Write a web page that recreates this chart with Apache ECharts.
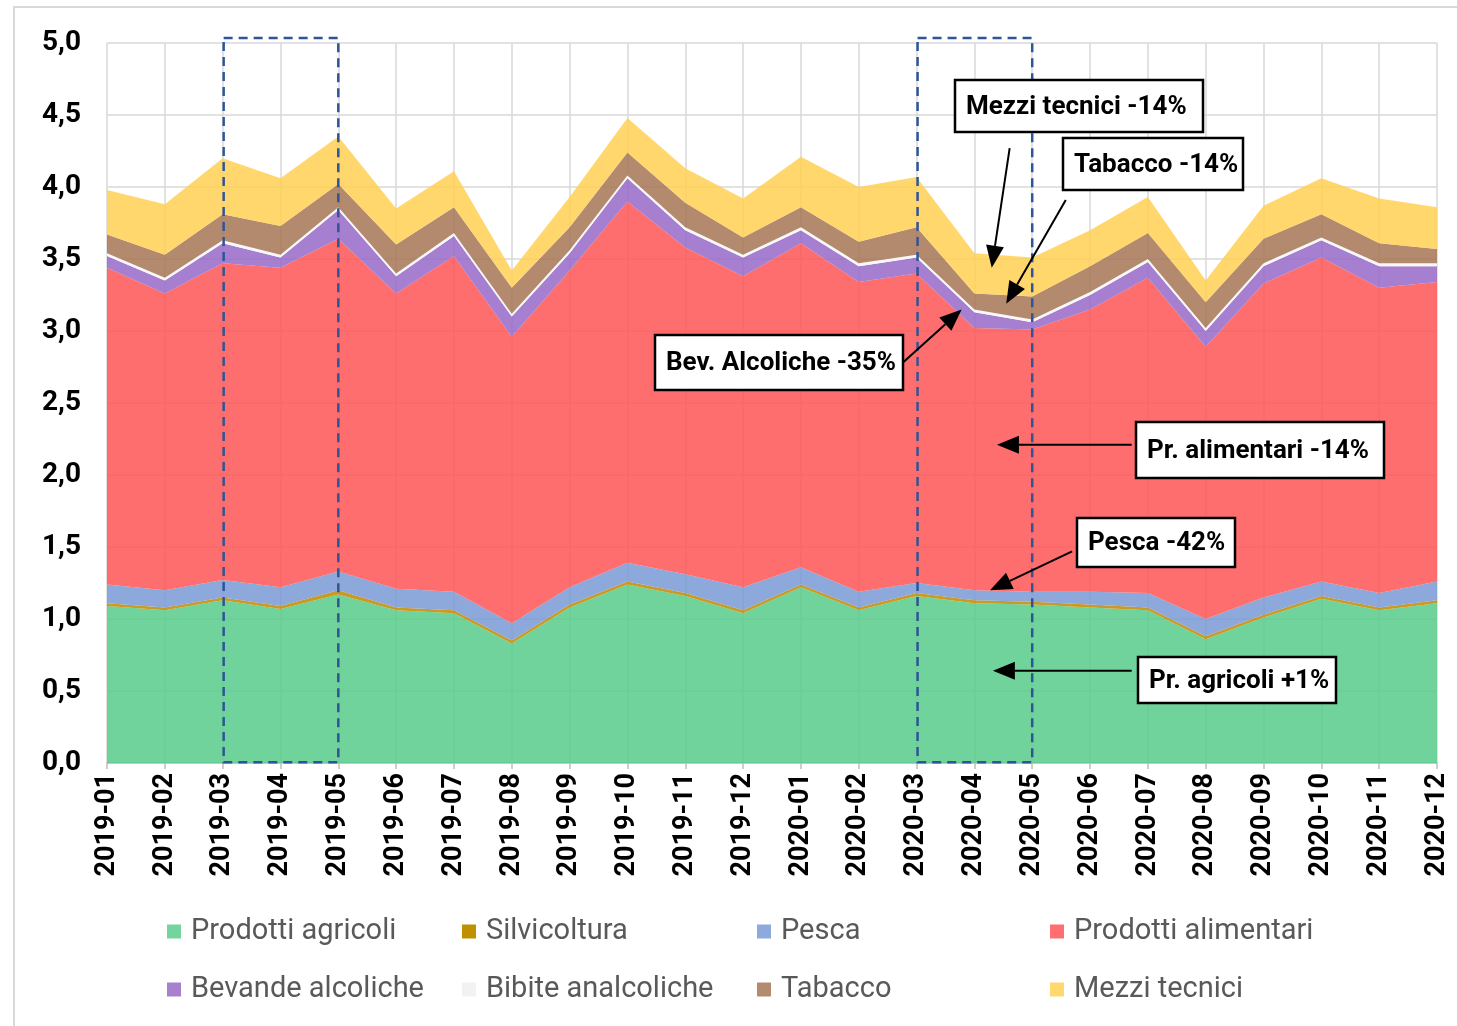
<!DOCTYPE html>
<html><head><meta charset="utf-8">
<script src="https://cdn.jsdelivr.net/npm/echarts@6/dist/echarts.min.js"></script>
<style>html,body{margin:0;padding:0;background:#fff;}#c{width:1457px;height:1026px;}</style>
</head><body><div id="c"></div>
<script>
const months = ['2019-01','2019-02','2019-03','2019-04','2019-05','2019-06','2019-07','2019-08','2019-09','2019-10','2019-11','2019-12',
  '2020-01','2020-02','2020-03','2020-04','2020-05','2020-06','2020-07','2020-08','2020-09','2020-10','2020-11','2020-12'];
const prodottiAgricoli = [1.09,1.06,1.13,1.07,1.17,1.06,1.04,0.83,1.08,1.24,1.16,1.04,1.22,1.06,1.16,1.11,1.10,1.08,1.06,0.86,1.01,1.14,1.06,1.11];
const silvicoltura = [0.02,0.02,0.02,0.02,0.03,0.02,0.02,0.02,0.02,0.02,0.02,0.02,0.02,0.02,0.02,0.02,0.02,0.02,0.02,0.02,0.02,0.02,0.02,0.02];
const pesca = [0.13,0.12,0.12,0.13,0.13,0.13,0.13,0.12,0.12,0.13,0.13,0.16,0.12,0.11,0.07,0.07,0.07,0.09,0.10,0.12,0.12,0.10,0.10,0.13];
const prodottiAlimentari = [2.20,2.06,2.20,2.22,2.31,2.05,2.33,1.99,2.20,2.51,2.27,2.16,2.25,2.15,2.15,1.82,1.82,1.96,2.19,1.89,2.18,2.25,2.12,2.08];
const bevandeAlcoliche = [0.08,0.09,0.14,0.07,0.20,0.12,0.14,0.14,0.12,0.16,0.12,0.13,0.09,0.11,0.11,0.11,0.05,0.10,0.11,0.11,0.12,0.12,0.15,0.11];
const bibiteAnalcoliche = [0.02,0.02,0.02,0.02,0.02,0.02,0.02,0.02,0.02,0.02,0.02,0.02,0.02,0.02,0.02,0.02,0.02,0.02,0.02,0.02,0.02,0.02,0.02,0.02];
const tabacco = [0.13,0.16,0.18,0.20,0.16,0.20,0.18,0.18,0.16,0.16,0.17,0.12,0.14,0.15,0.19,0.11,0.16,0.18,0.18,0.18,0.17,0.16,0.14,0.10];
const mezziTecnici = [0.31,0.35,0.39,0.33,0.33,0.25,0.25,0.12,0.21,0.24,0.24,0.27,0.35,0.38,0.35,0.28,0.27,0.25,0.25,0.15,0.23,0.25,0.31,0.29];
const yTicks = {min: 0, max: 5, interval: 0.5};
const highlightRanges = [['2019-03','2019-05'], ['2020-03','2020-05']];

const seriesDefs = [
  {name:'Prodotti agricoli', data: prodottiAgricoli, shown:'#73D49D', base:'#5ACC8C'},
  {name:'Silvicoltura', data: silvicoltura, shown:'#BF9000', base:'#C08A00'},
  {name:'Pesca', data: pesca, shown:'#8EA9DB', base:'#7A9AD5'},
  {name:'Prodotti alimentari', data: prodottiAlimentari, shown:'#FF6F6F', base:'#FF5656'},
  {name:'Bevande alcoliche', data: bevandeAlcoliche, shown:'#A780D0', base:'#976AC8'},
  {name:'Bibite analcoliche', data: bibiteAnalcoliche, shown:'#F2F2F2', base:'#F8F8F8'},
  {name:'Tabacco', data: tabacco, shown:'#B58B70', base:'#A87757'},
  {name:'Mezzi tecnici', data: mezziTecnici, shown:'#FFD86E', base:'#FFD155'}
];

const chart = echarts.init(document.getElementById('c'), null, {renderer:'canvas'});
const legendPos = [[167,917],[462,917],[757,917],[1050,917],[167,975],[462,975],[757,975],[1050,975]];

chart.setOption({
  animation: false,
  backgroundColor: '#ffffff',
  grid: {left: 107, right: 20, top: 43, bottom: 263},
  legend: seriesDefs.map((s, i) => ({
    data: [s.name], left: legendPos[i][0], top: legendPos[i][1], padding: 0,
    icon: 'rect', itemWidth: 14, itemHeight: 14, selectedMode: false,
    textStyle: {fontFamily: 'Roboto', fontSize: 29, color: '#595959', padding: [0, 0, 0, 5]}
  })),
  xAxis: {
    type: 'category', data: months, boundaryGap: false,
    axisLine: {lineStyle: {color: '#bfbfbf', width: 1.5}},
    axisTick: {show: true, length: 6, lineStyle: {color: '#bfbfbf', width: 1.5}},
    splitLine: {show: true, lineStyle: {color: '#d9d9d9', width: 1.5}},
    axisLabel: {rotate: 90, margin: 10, fontFamily: 'Roboto', fontWeight: 'bold', fontSize: 27, color: '#000'}
  },
  yAxis: {
    type: 'value', min: yTicks.min, max: yTicks.max, interval: yTicks.interval,
    axisLine: {show: false}, axisTick: {show: false},
    splitLine: {lineStyle: {color: '#d9d9d9', width: 1.5}},
    axisLabel: {margin: 26, fontFamily: 'Roboto', fontWeight: 'bold', fontSize: 28, color: '#000',
      formatter: v => v.toFixed(1).replace('.', ',')}
  },
  series: seriesDefs.map(s => ({
    name: s.name, type: 'line', stack: 'total', data: s.data,
    symbol: 'none', smooth: false,
    lineStyle: {width: 0},
    itemStyle: {color: s.shown},
    areaStyle: {color: s.base, opacity: s.name === 'Bibite analcoliche' ? 1 : 0.86}
  }))
});

function xPix(f) {
  const p0 = chart.convertToPixel({xAxisIndex: 0}, 0);
  const p1 = chart.convertToPixel({xAxisIndex: 0}, 1);
  return p0 + (p1 - p0) * f;
}
function yPix(v) { return chart.convertToPixel({yAxisIndex: 0}, v); }

const graphics = [];
graphics.push({type:'rect', shape:{x:14, y:7, width:1460, height:1040}, style:{fill:'none', stroke:'#d9d9d9', lineWidth:2}, z:0});
highlightRanges.forEach(r => {
  const x1 = xPix(months.indexOf(r[0])), x2 = xPix(months.indexOf(r[1]));
  const yT = yPix(5.035), yB = yPix(0.005);
  graphics.push({type:'rect', shape:{x:x1 + 1, y:yT, width:x2-x1-1, height:yB-yT},
    style:{fill:'none', stroke:'#2F5597', lineWidth:2.5, lineDash:[9,6]}, z:50});
});

const annotations = [
  {text:'Mezzi tecnici -14%', box:[955,80,248,52], from:[15.61,4.27], to:[15.30,3.44]},
  {text:'Tabacco -14%', box:[1063,138,180,52], from:[16.58,3.91], to:[15.55,3.19]},
  {text:'Bev. Alcoliche -35%', box:[655,335,248,55], from:[13.76,2.78], to:[14.78,3.15]},
  {text:'Pr. alimentari -14%', box:[1136,422,248,56], from:[17.72,2.21], to:[15.39,2.21]},
  {text:'Pesca -42%', box:[1077,518,158,49], from:[16.69,1.47], to:[15.27,1.20]},
  {text:'Pr. agricoli +1%', box:[1138,657,198,46], from:[17.72,0.64], to:[15.32,0.64]}
];
annotations.forEach(a => {
  const [bx, by, bw, bh] = a.box;
  graphics.push({type:'rect', shape:{x:bx, y:by, width:bw, height:bh}, style:{fill:'#fff', stroke:'#000', lineWidth:2.5}, z:60});
  graphics.push({type:'text', x: bx + 11, y: by + bh/2 + 1, style:{text:a.text, fontFamily:'Roboto', fontWeight:'bold', fontSize:26, fill:'#000', verticalAlign:'middle', align:'left'}, z:61});
  const x1 = xPix(a.from[0]), y1 = yPix(a.from[1]);
  const x2 = xPix(a.to[0]), y2 = yPix(a.to[1]);
  const ang = Math.atan2(y2 - y1, x2 - x1);
  const L = 22, W = 9;
  const bxp = x2 - L * Math.cos(ang), byp = y2 - L * Math.sin(ang);
  graphics.push({type:'line', shape:{x1:x1, y1:y1, x2:bxp, y2:byp}, style:{stroke:'#000', lineWidth:2}, z:60});
  graphics.push({type:'polygon', shape:{points:[[x2,y2],[bxp - W*Math.sin(ang), byp + W*Math.cos(ang)],[bxp + W*Math.sin(ang), byp - W*Math.cos(ang)]]}, style:{fill:'#000'}, z:60});
});
chart.setOption({graphic: graphics});
</script></body></html>
